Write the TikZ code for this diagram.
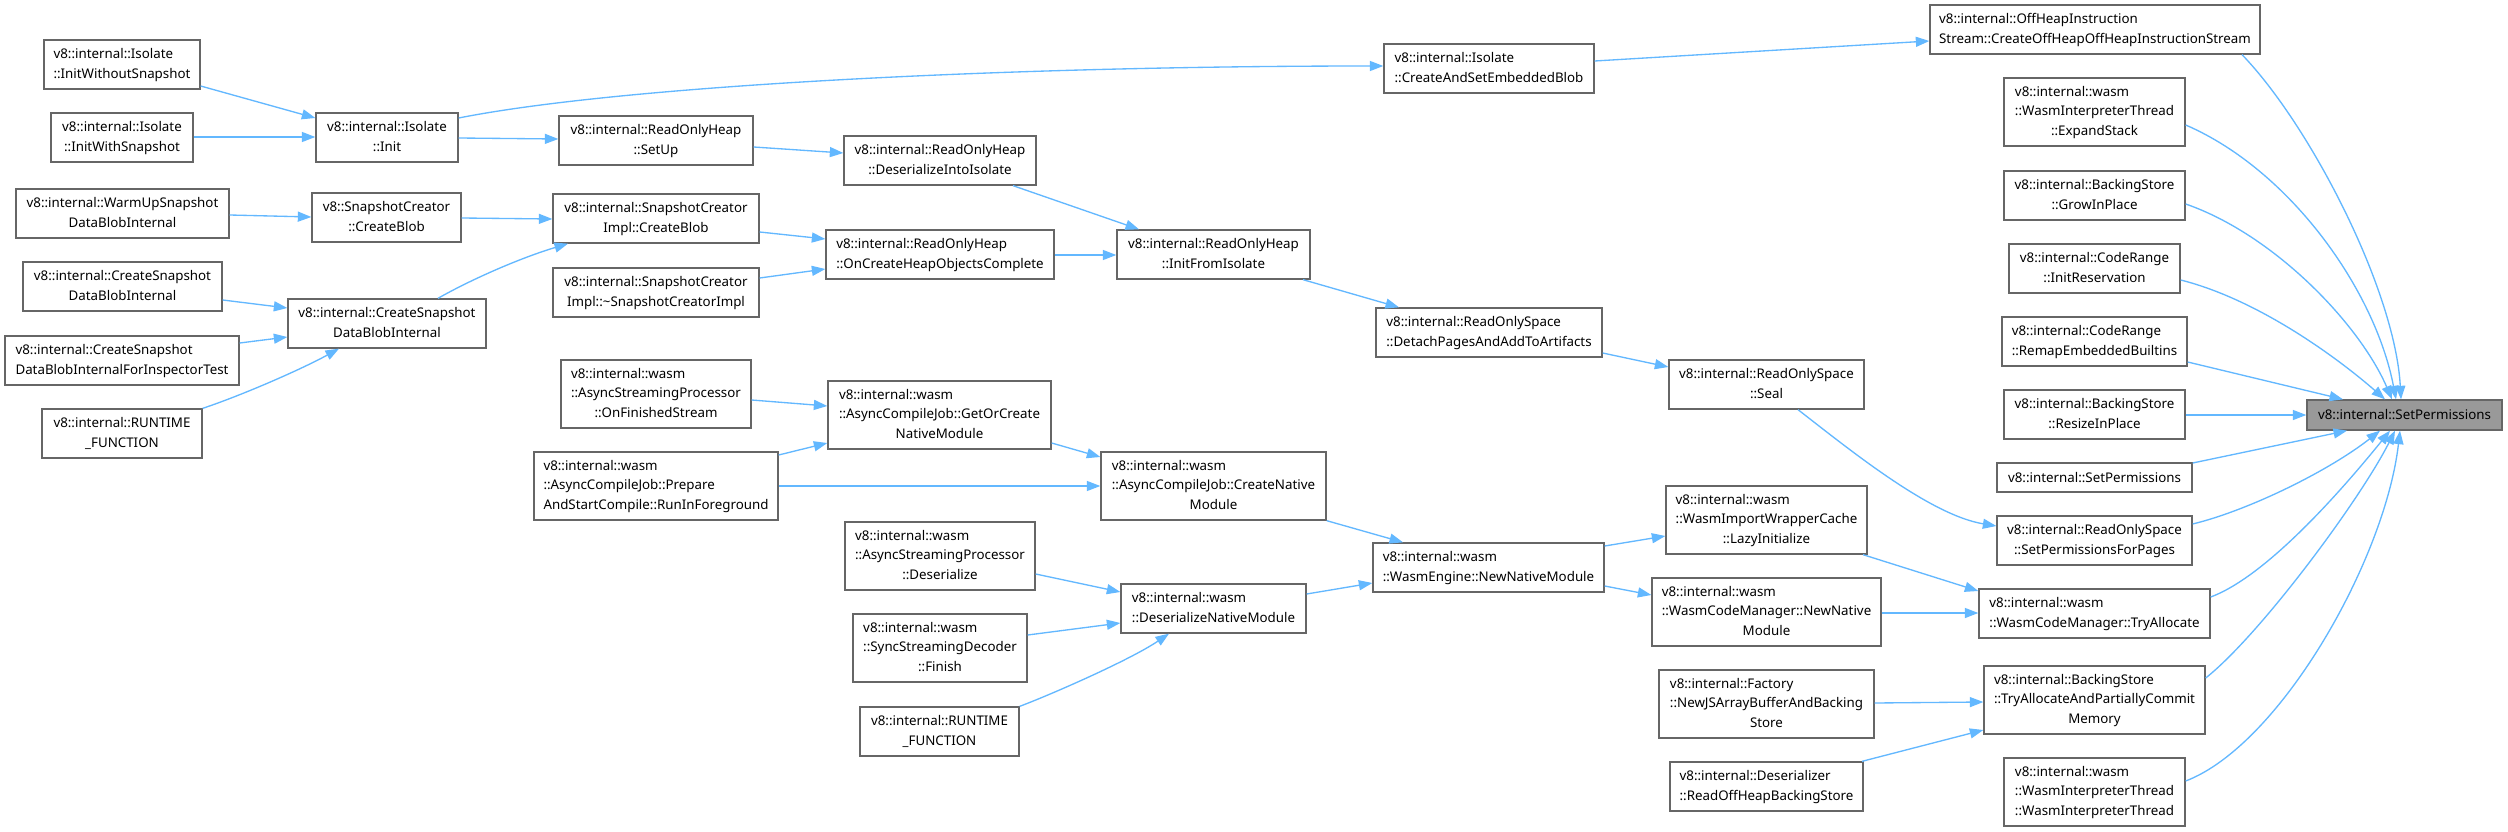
\documentclass[tikz,border=0pt]{standalone}
\usepackage{fontspec}
\setmainfont{Noto Sans}
\usetikzlibrary{arrows.meta}
\definecolor{edgeblue}{HTML}{63B8FF}
\definecolor{nodeline}{HTML}{666666}
\definecolor{rootfill}{HTML}{999999}
\newcommand\lb[2]{\begin{tabular}{@{}l@{}}#1\\\multicolumn{1}{@{}c@{}}{#2}\end{tabular}}
\newcommand\lc[3]{\begin{tabular}{@{}l@{}}#1\\#2\\\multicolumn{1}{@{}c@{}}{#3}\end{tabular}}
\newcommand\bx[7][]{\node[box,#1,minimum width={(#5)-(#3)},minimum height={(#6)-(#4)}] (#2) at ({((#3)+(#5))/2},{((#4)+(#6))/2}) {#7};}
\begin{document}
\begin{tikzpicture}[x=1pt,y=-1pt,
  box/.style={draw=nodeline,fill=white,line width=1.33pt,inner sep=0pt,text=black,
    font=\fontsize{13.33}{19.3}\selectfont},
  rootbox/.style={fill=rootfill},
  edge/.style={draw=edgeblue,line width=1.33pt,-{Triangle[length=13.5pt,width=10pt]}}]
\useasboundingbox[fill=white] (0,0) rectangle (2508,832);
% column A
\bx{A1}{44}{40}{200}{89}{\lb{v8::internal::Isolate}{::InitWithoutSnapshot}}
\bx{A2}{51}{113}{193}{162}{\lb{v8::internal::Isolate}{::InitWithSnapshot}}
\bx{A3}{16}{189}{229}{238}{\lb{v8::internal::WarmUpSnapshot}{DataBlobInternal}}
\bx{A4}{23}{262}{222}{311}{\lb{v8::internal::CreateSnapshot}{DataBlobInternal}}
\bx{A5}{5}{336}{239}{385}{\lb{v8::internal::CreateSnapshot}{DataBlobInternalForInspectorTest}}
\bx{A6}{42}{409}{202}{458}{\lb{v8::internal::RUNTIME}{\_FUNCTION}}
% column B
\bx{B1}{316}{113}{458}{162}{\lb{v8::internal::Isolate}{::Init}}
\bx{B2}{312}{193}{461}{242}{\lb{v8::SnapshotCreator}{::CreateBlob}}
\bx{B3}{288}{299}{486}{348}{\lb{v8::internal::CreateSnapshot}{DataBlobInternal}}
% column C
\bx{C1}{559}{116}{753}{165}{\lb{v8::internal::ReadOnlyHeap}{::SetUp}}
\bx{C2}{553}{194}{759}{243}{\lb{v8::internal::SnapshotCreator}{Impl::CreateBlob}}
\bx{C3}{553}{268}{759}{317}{\lb{v8::internal::SnapshotCreator}{Impl::\textasciitilde SnapshotCreatorImpl}}
\bx{C4}{561}{360}{751}{428}{\lc{v8::internal::wasm}{::AsyncStreamingProcessor}{::OnFinishedStream}}
\bx{C5}{534}{452}{778}{520}{\lc{v8::internal::wasm}{::AsyncCompileJob::Prepare}{AndStartCompile::RunInForeground}}
% column D
\bx{D1}{1384}{44}{1594}{93}{\lb{v8::internal::Isolate}{::CreateAndSetEmbeddedBlob}}
\bx{D2}{844}{136}{1036}{185}{\lb{v8::internal::ReadOnlyHeap}{::DeserializeIntoIsolate}}
\bx{D3}{826}{230}{1054}{279}{\lb{v8::internal::ReadOnlyHeap}{::OnCreateHeapObjectsComplete}}
\bx{D4}{828}{381}{1051}{449}{\lc{v8::internal::wasm}{::AsyncCompileJob::GetOrCreate}{NativeModule}}
\bx{D5}{845}{522}{1035}{590}{\lc{v8::internal::wasm}{::AsyncStreamingProcessor}{::Deserialize}}
\bx{D6}{853}{614}{1027}{682}{\lc{v8::internal::wasm}{::SyncStreamingDecoder}{::Finish}}
\bx{D7}{860}{707}{1019}{756}{\lb{v8::internal::RUNTIME}{\_FUNCTION}}
% column E
\bx{E1}{1117}{230}{1310}{279}{\lb{v8::internal::ReadOnlyHeap}{::InitFromIsolate}}
\bx{E2}{1101}{452}{1326}{520}{\lc{v8::internal::wasm}{::AsyncCompileJob::CreateNative}{Module}}
\bx{E3}{1121}{584}{1306}{633}{\lb{v8::internal::wasm}{::DeserializeNativeModule}}
% column F
\bx{F1}{1376}{308}{1602}{357}{\lb{v8::internal::ReadOnlySpace}{::DetachPagesAndAddToArtifacts}}
\bx{F2}{1373}{543}{1604}{592}{\lb{v8::internal::wasm}{::WasmEngine::NewNativeModule}}
% column G
\bx{G1}{1669}{360}{1864}{409}{\lb{v8::internal::ReadOnlySpace}{::Seal}}
\bx{G2}{1666}{486}{1867}{554}{\lc{v8::internal::wasm}{::WasmImportWrapperCache}{::LazyInitialize}}
\bx{G3}{1652}{578}{1881}{646}{\lc{v8::internal::wasm}{::WasmCodeManager::NewNative}{Module}}
\bx{G4}{1659}{670}{1874}{738}{\lc{v8::internal::Factory}{::NewJSArrayBufferAndBacking}{Store}}
\bx{G5}{1670}{762}{1863}{811}{\lb{v8::internal::Deserializer}{::ReadOffHeapBackingStore}}
% column H
\bx{H1}{1930}{5}{2260}{54}{\lb{v8::internal::OffHeapInstruction}{Stream::CreateOffHeapOffHeapInstructionStream}}
\bx{H2}{2004}{78}{2185}{146}{\lc{v8::internal::wasm}{::WasmInterpreterThread}{::ExpandStack}}
\bx{H3}{2004}{171}{2185}{220}{\lb{v8::internal::BackingStore}{::GrowInPlace}}
\bx{H4}{2009}{244}{2180}{293}{\lb{v8::internal::CodeRange}{::InitReservation}}
\bx{H5}{2002}{317}{2187}{366}{\lb{v8::internal::CodeRange}{::RemapEmbeddedBuiltins}}
\bx{H6}{2004}{390}{2185}{439}{\lb{v8::internal::BackingStore}{::ResizeInPlace}}
\bx{H7}{1997}{463}{2192}{492}{v8::internal::SetPermissions}
\bx{H8}{1997}{516}{2192}{565}{\lb{v8::internal::ReadOnlySpace}{::SetPermissionsForPages}}
\bx{H9}{1979}{589}{2210}{638}{\lb{v8::internal::wasm}{::WasmCodeManager::TryAllocate}}
\bx{H10}{1984}{666}{2205}{734}{\lc{v8::internal::BackingStore}{::TryAllocateAndPartiallyCommit}{Memory}}
\bx{H11}{2004}{758}{2185}{826}{\lc{v8::internal::wasm}{::WasmInterpreterThread}{::WasmInterpreterThread}}
% target
\bx[rootbox]{T}{2307}{400}{2502}{430}{v8::internal::SetPermissions}
% edges
\draw[edge] (A1.east |- 0,86) -- (B1.west |- 0,118);
\draw[edge] (A2.east |- 0,137) -- (B1.west |- 0,137);
\draw[edge] (B1.east |- 0,138) -- (C1.west |- 0,139);
\draw[edge] (B1.east |- 0,118) .. controls (620,86) and (1000,66) .. (D1.west |- 0,66);
\draw[edge] (D1.east |- 0,61) -- (H1.west |- 0,41);
\draw[edge] (H1.south -| 2242,0) .. controls (2310,125) and (2395,290) .. (T.north -| 2401,0);
\draw[edge] (C1.east |- 0,147) -- (D2.west |- 0,153);
\draw[edge] (D2.south -| 1013,0) -- (E1.north -| 1139,0);
\draw[edge] (A3.east |- 0,215) -- (B2.west |- 0,217);
\draw[edge] (B2.east |- 0,218) -- (C2.west |- 0,219);
\draw[edge] (A4.east |- 0,300) -- (B3.west |- 0,308);
\draw[edge] (A5.east |- 0,343) -- (B3.west |- 0,337);
\draw[edge] (A6.north east) .. controls (240,396) and (300,370) .. (B3.south -| 339,0);
\draw[edge] (B3.north -| 438,0) .. controls (470,280) and (520,258) .. (C2.south -| 568,0);
\draw[edge] (C2.east |- 0,232) -- (D3.west |- 0,239);
\draw[edge] (C3.east |- 0,278) -- (D3.west |- 0,269);
\draw[edge] (D3.east |- 0,255) -- (E1.west |- 0,255);
\draw[edge] (E1.south -| 1303,0) -- (F1.north -| 1399,0);
\draw[edge] (F1.east |- 0,353) -- (G1.west |- 0,367);
\draw[edge] (G1.south -| 1798,0) .. controls (1850,450) and (1930,515) .. (H8.west |- 0,526);
\draw[edge] (C4.east |- 0,400) -- (D4.west |- 0,406);
\draw[edge] (C5.east |- 0,455) -- (D4.west |- 0,443);
\draw[edge] (C5.east |- 0,486) -- (E2.west |- 0,486);
\draw[edge] (D4.east |- 0,443) -- (E2.west |- 0,457);
\draw[edge] (E2.south east) -- (F2.north -| 1403,0);
\draw[edge] (D5.east |- 0,574) -- (E3.west |- 0,592);
\draw[edge] (D6.east |- 0,635) -- (E3.west |- 0,623);
\draw[edge] (D7.north east) .. controls (1050,695) and (1130,660) .. (E3.south -| 1169,0);
\draw[edge] (E3.east |- 0,594) -- (F2.west |- 0,583);
\draw[edge] (F2.east |- 0,546) -- (G2.west |- 0,536);
\draw[edge] (F2.east |- 0,586) -- (G3.west |- 0,595);
\draw[edge] (G2.south -| 1863,0) -- (H9.west |- 0,591);
\draw[edge] (G3.east |- 0,613) -- (H9.west |- 0,613);
\draw[edge] (G4.east |- 0,703) -- (H10.west |- 0,702);
\draw[edge] (G5.north -| 1862,0) -- (H10.west |- 0,730);
\draw[edge] (H2.east |- 0,125) .. controls (2290,170) and (2375,290) .. (T.north -| 2396,0);
\draw[edge] (H3.east |- 0,204) .. controls (2275,235) and (2360,325) .. (T.north -| 2392,0);
\draw[edge] (H4.east |- 0,280) .. controls (2260,300) and (2340,360) .. (T.north -| 2385,0);
\draw[edge] (H5.east |- 0,362) -- (T.north -| 2343,0);
\draw[edge] (H6.east |- 0,415) -- (T.west |- 0,415);
\draw[edge] (H7.east |- 0,463) -- (T.south -| 2347,0);
\draw[edge] (H8.east |- 0,524) .. controls (2250,510) and (2330,470) .. (T.south -| 2380,0);
\draw[edge] (H9.east |- 0,597) .. controls (2270,575) and (2350,480) .. (T.south -| 2390,0);
\draw[edge] (H10.east |- 0,678) .. controls (2260,635) and (2360,500) .. (T.south -| 2395,0);
\draw[edge] (H11.east |- 0,781) .. controls (2280,745) and (2385,560) .. (T.south -| 2400,0);
\end{tikzpicture}
\end{document}
